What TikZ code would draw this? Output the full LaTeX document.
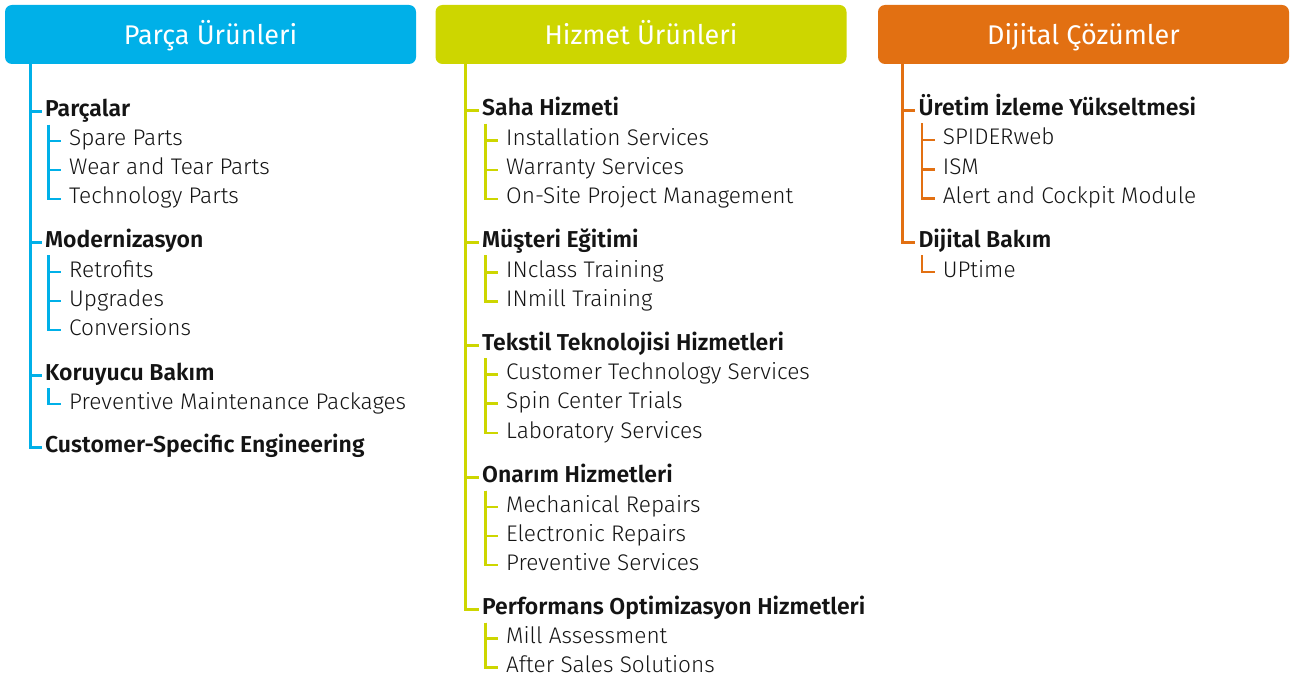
\documentclass[tikz,border=0pt]{standalone}
\usepackage{fontspec}
\setmainfont{Fira Sans}
\newfontfamily\lightface{Fira Sans Light}
\newfontfamily\semiface{Fira Sans SemiBold}
\usetikzlibrary{calc}

\definecolor{partcyan}{RGB}{0,176,232}
\definecolor{servlime}{RGB}{205,214,0}
\definecolor{digorange}{RGB}{226,112,18}
\definecolor{ink}{RGB}{20,20,20}

\tikzset{
  hdr/.style={rounded corners=7pt, minimum width=411pt, minimum height=59pt,
    inner sep=0pt, text=white, font=\fontsize{27}{30}\selectfont,
    text height=21pt, text depth=0pt},
  grp/.style={anchor=base west, inner sep=0pt, text=ink,
    font=\semiface\fontsize{23}{27}\selectfont},
  itm/.style={anchor=base west, inner sep=0pt, text=ink,
    font=\lightface\fontsize{22.6}{26}\selectfont},
  trunk/.style={line width=3pt},
  twig/.style={line width=2.5pt},
}

% branch from a column root to a group heading
\newcommand\tobranch[3]{\draw[trunk,#1] (#2) |- ($(#3.base west)+(-3.5,-5)$);}
% branch from a group heading to one of its items
\newcommand\toleaf[3]{\draw[twig,#1] ($(#2.base west)+(3.5,8)$) |- ($(#3.base west)+(-8,-5)$);}

\begin{document}
\begin{tikzpicture}[x=1pt,y=-1pt]
\useasboundingbox (0,0) rectangle (1295,679);

% ---------- column headers ----------
\node[hdr,fill=partcyan]  (h1) at (210.5,34.5)  {Parça Ürünleri};
\node[hdr,fill=servlime]  (h2) at (641,34.5)    {Hizmet Ürünleri};
\node[hdr,fill=digorange] (h3) at (1083.5,34.5) {Dijital Çözümler};

\coordinate (r1) at (30,64);
\coordinate (r2) at (465,64);
\coordinate (r3) at (902.7,64);

% ---------- Parça Ürünleri ----------
\node[grp] (a1) at (45,117) {Parçalar};
\node[itm] (a11) at (69,146) {Spare Parts};
\node[itm] (a12) at (69,175) {Wear and Tear Parts};
\node[itm] (a13) at (69,204) {Technology Parts};
\node[grp] (a2) at (45,247) {Modernizasyon};
\node[itm] (a21) at (69,277) {Retrofits};
\node[itm] (a22) at (69,306) {Upgrades};
\node[itm] (a23) at (69,335) {Conversions};
\node[grp] (a3) at (45,380) {Koruyucu Bakım};
\node[itm] (a31) at (69,409) {Preventive Maintenance Packages};
\node[grp] (a4) at (45,452) {Customer-Specific Engineering};

\tobranch{partcyan}{r1}{a1}
\tobranch{partcyan}{r1}{a2}
\tobranch{partcyan}{r1}{a3}
\tobranch{partcyan}{r1}{a4}
\toleaf{partcyan}{a1}{a11}
\toleaf{partcyan}{a1}{a12}
\toleaf{partcyan}{a1}{a13}
\toleaf{partcyan}{a2}{a21}
\toleaf{partcyan}{a2}{a22}
\toleaf{partcyan}{a2}{a23}
\toleaf{partcyan}{a3}{a31}

% ---------- Hizmet Ürünleri ----------
\node[grp] (b1) at (482,116) {Saha Hizmeti};
\node[itm] (b11) at (506,145.5) {Installation Services};
\node[itm] (b12) at (506,175) {Warranty Services};
\node[itm] (b13) at (506,204) {On-Site Project Management};
\node[grp] (b2) at (482,247) {Müşteri Eğitimi};
\node[itm] (b21) at (506,277.5) {INclass Training};
\node[itm] (b22) at (506,306.5) {INmill Training};
\node[grp] (b3) at (482,350) {Tekstil Teknolojisi Hizmetleri};
\node[itm] (b31) at (506,379.5) {Customer Technology Services};
\node[itm] (b32) at (506,408.5) {Spin Center Trials};
\node[itm] (b33) at (506,438) {Laboratory Services};
\node[grp] (b4) at (482,482.5) {Onarım Hizmetleri};
\node[itm] (b41) at (506,512) {Mechanical Repairs};
\node[itm] (b42) at (506,541) {Electronic Repairs};
\node[itm] (b43) at (506,570) {Preventive Services};
\node[grp] (b5) at (482,614.5) {Performans Optimizasyon Hizmetleri};
\node[itm] (b51) at (506,643.5) {Mill Assessment};
\node[itm] (b52) at (506,672.5) {After Sales Solutions};

\tobranch{servlime}{r2}{b1}
\tobranch{servlime}{r2}{b2}
\tobranch{servlime}{r2}{b3}
\tobranch{servlime}{r2}{b4}
\tobranch{servlime}{r2}{b5}
\toleaf{servlime}{b1}{b11}
\toleaf{servlime}{b1}{b12}
\toleaf{servlime}{b1}{b13}
\toleaf{servlime}{b2}{b21}
\toleaf{servlime}{b2}{b22}
\toleaf{servlime}{b3}{b31}
\toleaf{servlime}{b3}{b32}
\toleaf{servlime}{b3}{b33}
\toleaf{servlime}{b4}{b41}
\toleaf{servlime}{b4}{b42}
\toleaf{servlime}{b4}{b43}
\toleaf{servlime}{b5}{b51}
\toleaf{servlime}{b5}{b52}

% ---------- Dijital Çözümler ----------
\node[grp] (c1) at (918.3,115.5) {Üretim İzleme Yükseltmesi};
\node[itm] (c11) at (942.7,145) {SPIDERweb};
\node[itm] (c12) at (942.7,174.5) {ISM};
\node[itm] (c13) at (942.7,203.5) {Alert and Cockpit Module};
\node[grp] (c2) at (918.3,247) {Dijital Bakım};
\node[itm] (c21) at (942.7,277) {UPtime};

\tobranch{digorange}{r3}{c1}
\tobranch{digorange}{r3}{c2}
\toleaf{digorange}{c1}{c11}
\toleaf{digorange}{c1}{c12}
\toleaf{digorange}{c1}{c13}
\toleaf{digorange}{c2}{c21}
\end{tikzpicture}
\end{document}
